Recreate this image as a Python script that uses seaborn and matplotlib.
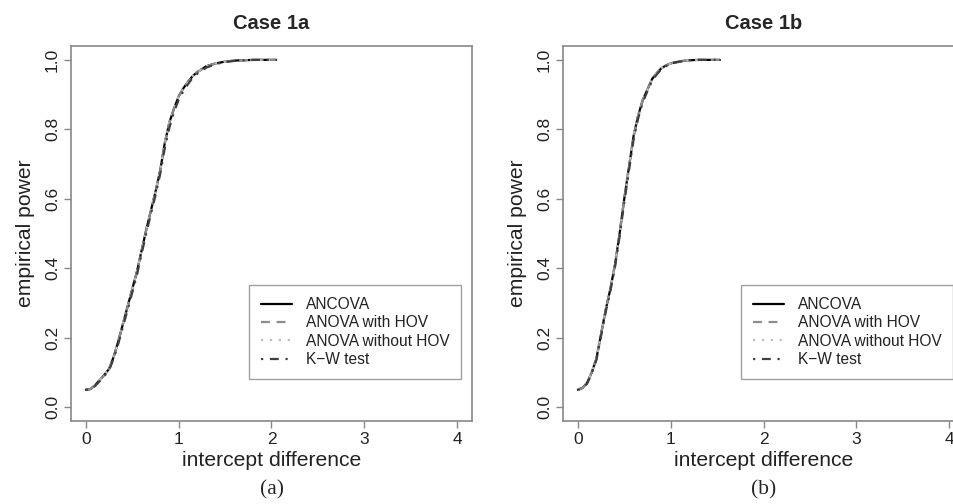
import numpy as np
import pandas as pd
import seaborn as sns
import matplotlib
matplotlib.use('Agg')
import matplotlib.pyplot as plt

# Case 1a: power curves
x_1a = [0, 0.05, 0.1, 0.15, 0.2, 0.25, 0.3, 0.35, 0.4, 0.45, 0.5, 0.55, 0.6, 0.65, 0.7,
        0.75, 0.8, 0.85, 0.9, 0.95, 1.0, 1.05, 1.1, 1.15, 1.2, 1.3, 1.4, 1.5, 1.6, 1.7,
        1.8, 1.9, 2.0, 2.05]
ancova_1a = [0.05, 0.052, 0.063, 0.078, 0.093, 0.11, 0.145, 0.19, 0.24, 0.29, 0.34, 0.39,
             0.45, 0.51, 0.565, 0.62, 0.68, 0.76, 0.82, 0.86, 0.895, 0.918, 0.937, 0.953,
             0.965, 0.982, 0.99, 0.995, 0.998, 0.999, 1.0, 1.0, 1.0, 1.0]
kw_1a = [0.05, 0.051, 0.061, 0.075, 0.09, 0.106, 0.14, 0.183, 0.232, 0.28, 0.33, 0.38,
         0.44, 0.5, 0.555, 0.61, 0.67, 0.745, 0.805, 0.85, 0.885, 0.91, 0.93, 0.948,
         0.96, 0.978, 0.988, 0.994, 0.997, 0.999, 1.0, 1.0, 1.0, 1.0]

# Case 1b
x_1b = [0, 0.05, 0.1, 0.15, 0.2, 0.25, 0.3, 0.35, 0.4, 0.45, 0.5, 0.55, 0.6, 0.65, 0.7,
        0.75, 0.8, 0.85, 0.9, 0.95, 1.0, 1.1, 1.2, 1.3, 1.4, 1.5, 1.53]
ancova_1b = [0.05, 0.055, 0.07, 0.1, 0.14, 0.21, 0.28, 0.34, 0.41, 0.5, 0.6, 0.69, 0.78,
             0.84, 0.885, 0.915, 0.945, 0.962, 0.976, 0.984, 0.99, 0.996, 0.999, 1.0,
             1.0, 1.0, 1.0]
kw_1b = [0.05, 0.054, 0.068, 0.097, 0.136, 0.205, 0.274, 0.334, 0.403, 0.492, 0.59, 0.68,
         0.77, 0.832, 0.878, 0.91, 0.94, 0.958, 0.973, 0.982, 0.989, 0.995, 0.999, 1.0,
         1.0, 1.0, 1.0]

methods = ['ANCOVA', 'ANOVA with HOV', 'ANOVA without HOV', 'K\u2212W test']
colors = ['black', '#8c8c8c', '#bdbdbd', '#404040']
styles = ['-', (0, (4, 3)), (0, (1, 3)), (0, (1, 3, 4, 3))]

x_ticks = [0, 1, 2, 3, 4]
y_ticks = [0.0, 0.2, 0.4, 0.6, 0.8, 1.0]

sns.set_style('white')
plt.rcParams['font.family'] = ['Liberation Sans', 'DejaVu Sans']

fig = plt.figure(figsize=(9.54, 5.04), dpi=100)
W, H = 954, 504
panels = [
    ('Case 1a', '(a)', x_1a, [ancova_1a, ancova_1a, ancova_1a, kw_1a], 71),
    ('Case 1b', '(b)', x_1b, [ancova_1b, ancova_1b, ancova_1b, kw_1b], 563),
]

for title, cap, xs, series, left in panels:
    ax = fig.add_axes([left / W, (H - 421) / H, 401 / W, 375 / H])
    for name, ys, c, ls in zip(methods, series, colors, styles):
        sns.lineplot(x=xs, y=ys, ax=ax, color=c, linestyle=ls, linewidth=1.6,
                     label=name)
    ax.set_xlim(-0.16, 4.16)
    ax.set_ylim(-0.04, 1.04)
    ax.set_xticks(x_ticks)
    ax.set_xticklabels([str(t) for t in x_ticks])
    ax.set_yticks(y_ticks)
    ax.set_yticklabels([f'{t:.1f}' for t in y_ticks], rotation=90, va='center')
    ax.tick_params(axis='both', direction='out', length=5, width=1, color='#888888',
                   labelsize=12.5, labelcolor='#222222', pad=3)
    ax.tick_params(axis='both', which='both', bottom=True, left=True)
    for sp in ax.spines.values():
        sp.set_color('#888888')
        sp.set_linewidth(1.2)
    ax.set_xlabel('intercept difference', fontsize=15.2, color='#222222', labelpad=3)
    ax.set_ylabel('empirical power', fontsize=15.2, color='#222222', labelpad=7)
    ax.set_title(title, fontsize=14.5, fontweight='bold', pad=12)
    leg = ax.legend(loc='lower right', bbox_to_anchor=(0.973, 0.112), fontsize=11.2,
                    frameon=True, fancybox=False, handlelength=2.0, handletextpad=0.9,
                    labelspacing=0.22, borderpad=0.75, borderaxespad=0)
    leg.get_frame().set_edgecolor('#888888')
    leg.get_frame().set_linewidth(1.0)
    for t in leg.get_texts():
        t.set_color('#222222')
    fig.text((left + 201) / W, 1 - 490 / H, cap, ha='center', va='center',
             fontsize=15.5, family='Liberation Serif')

fig.savefig('out.png', dpi=100)
